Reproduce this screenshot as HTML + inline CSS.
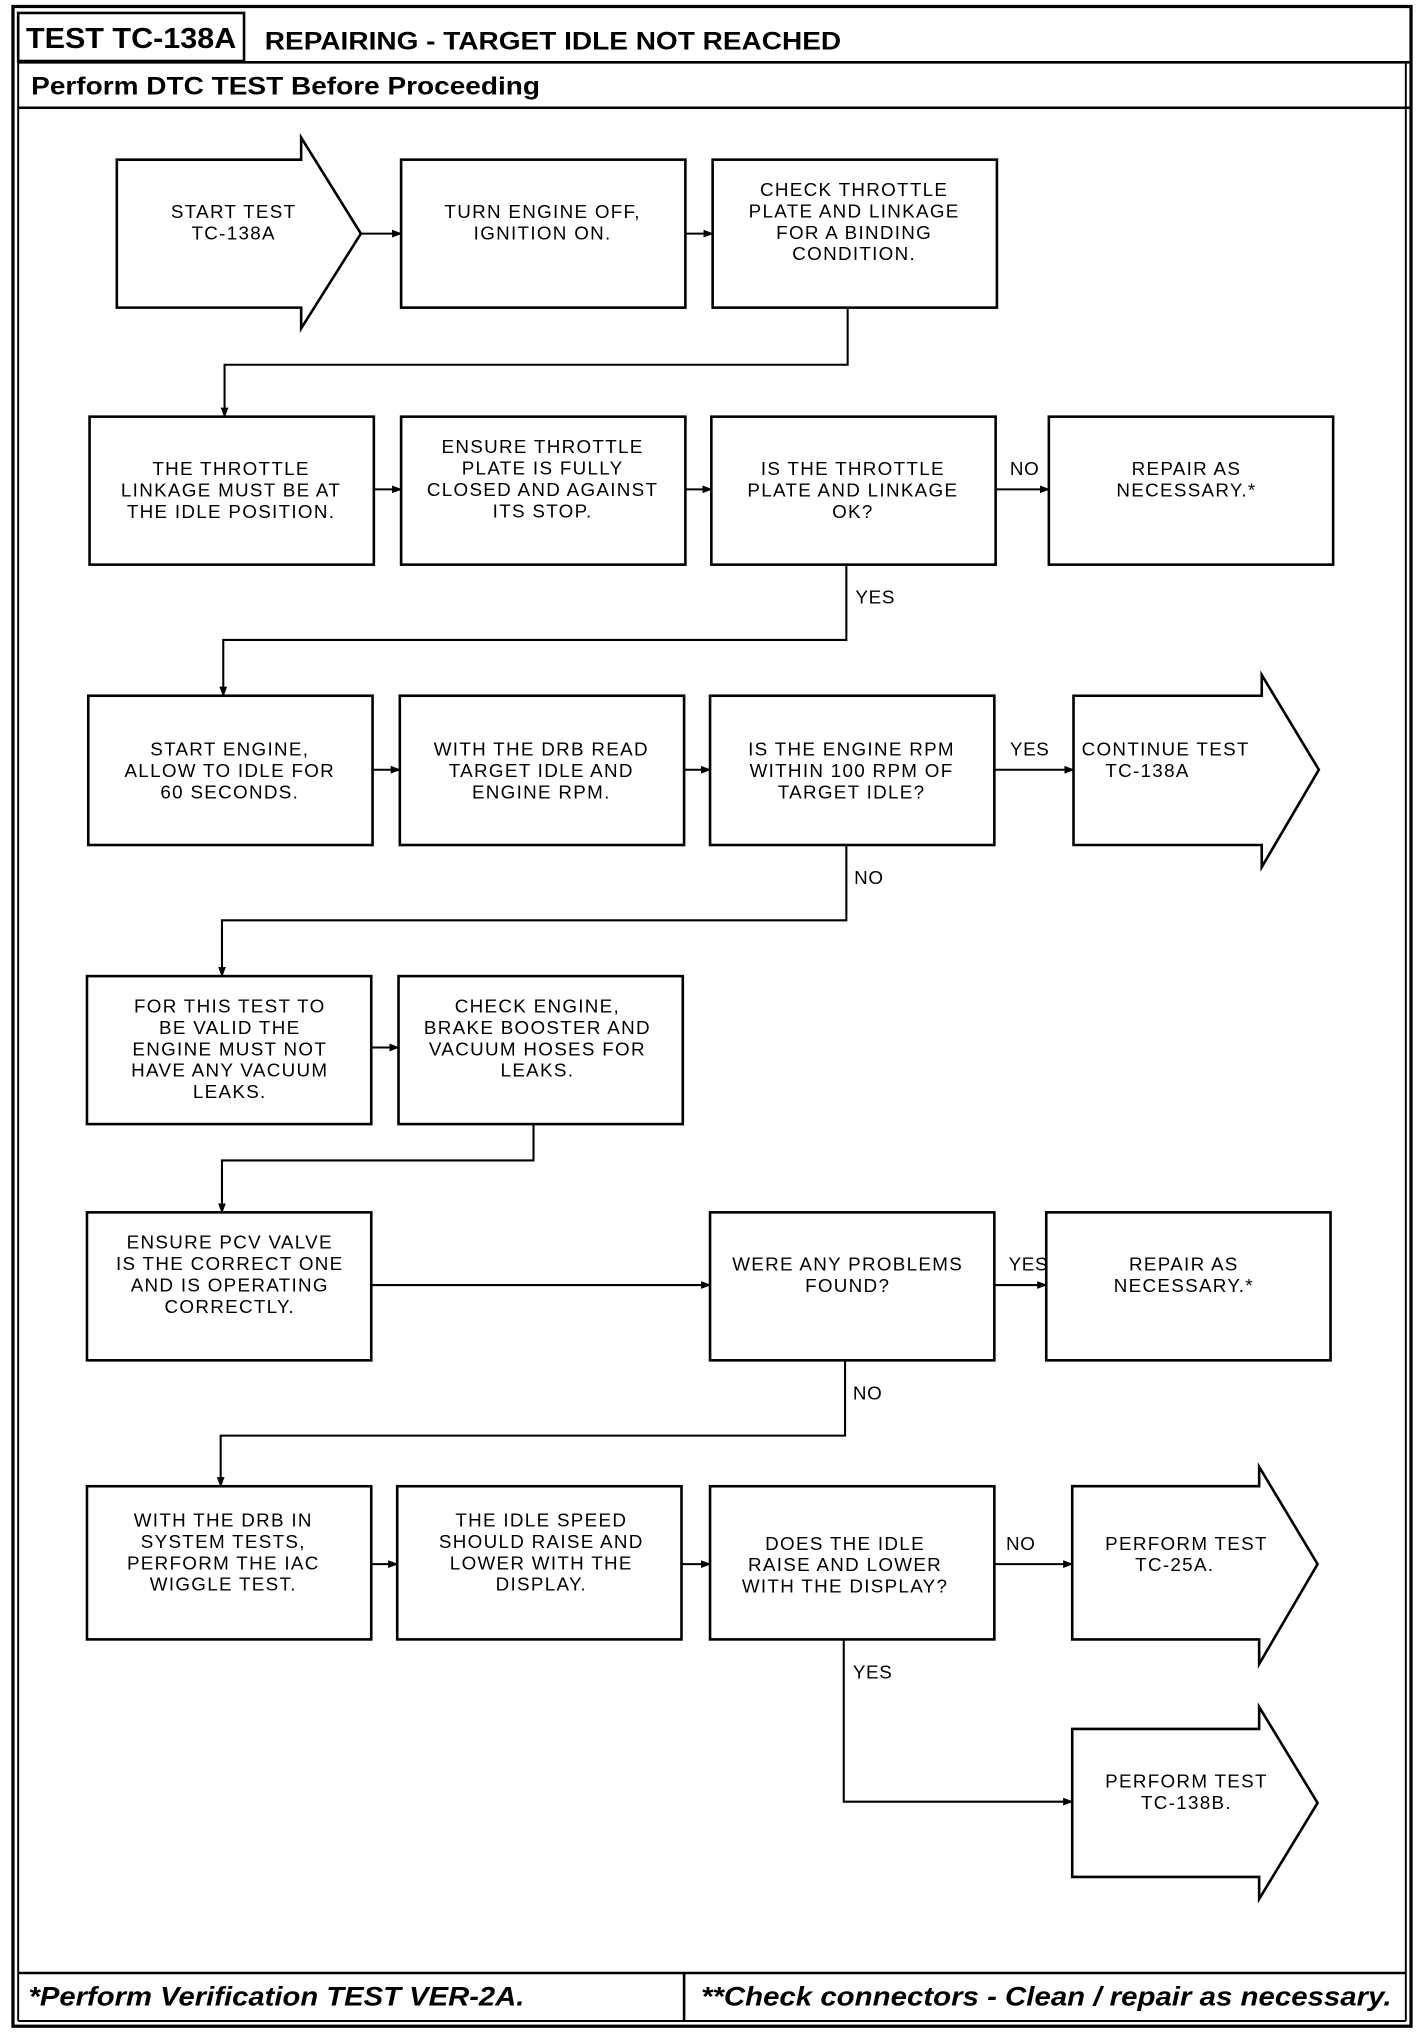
<!DOCTYPE html>
<html><head><meta charset="utf-8"><style>
html,body{margin:0;padding:0;background:#fff;}
svg{display:block;}
.b{fill:#fff;stroke:#000;stroke-width:2;}
.l{fill:none;stroke:#000;stroke-width:1.6;}
.t{font-family:"Liberation Sans",sans-serif;font-size:14.5px;letter-spacing:1px;fill:#000;text-anchor:middle;}
.lab{font-family:"Liberation Sans",sans-serif;font-size:14.5px;letter-spacing:0.5px;fill:#000;}
.h{font-family:"Liberation Sans",sans-serif;font-weight:bold;fill:#000;}
</style></head><body>
<svg width="1424" height="2034" viewBox="0 0 1097 1567" preserveAspectRatio="none" xmlns="http://www.w3.org/2000/svg">
<defs><marker id="a" markerWidth="8" markerHeight="8" refX="7" refY="4" orient="auto" markerUnits="userSpaceOnUse"><path d="M0,1 L8,4 L0,7 z" fill="#000"/></marker></defs>
<rect x="10" y="5" width="1077" height="1556" fill="none" stroke="#000" stroke-width="2.5"/>
<line x1="14" y1="10" x2="14" y2="1557" stroke="#000" stroke-width="1.5"/>
<line x1="1083" y1="48" x2="1083" y2="1557" stroke="#000" stroke-width="1.5"/>
<rect x="14" y="10" width="174" height="37" fill="none" stroke="#000" stroke-width="2"/>
<text class="h" x="20" y="37" font-size="22" textLength="162" lengthAdjust="spacingAndGlyphs">TEST TC-138A</text>
<text class="h" x="204" y="38" font-size="19" textLength="444" lengthAdjust="spacingAndGlyphs">REPAIRING - TARGET IDLE NOT REACHED</text>
<line x1="14" y1="48" x2="1087" y2="48" stroke="#000" stroke-width="2"/>
<text class="h" x="24" y="73" font-size="19" textLength="392" lengthAdjust="spacingAndGlyphs">Perform DTC TEST Before Proceeding</text>
<line x1="14" y1="83" x2="1087" y2="83" stroke="#000" stroke-width="2"/>
<line x1="14" y1="1520" x2="1083" y2="1520" stroke="#000" stroke-width="2"/>
<line x1="14" y1="1557" x2="1083" y2="1557" stroke="#000" stroke-width="1.5"/>
<line x1="527" y1="1520" x2="527" y2="1557" stroke="#000" stroke-width="2"/>
<text class="h" x="22" y="1545" font-size="21" font-style="italic" textLength="382" lengthAdjust="spacingAndGlyphs">*Perform Verification TEST VER-2A.</text>
<text class="h" x="540" y="1545" font-size="21" font-style="italic" textLength="532" lengthAdjust="spacingAndGlyphs">**Check connectors - Clean / repair as necessary.</text>

<!-- Row 1 -->
<path class="b" d="M90,123 H232 V106 L278,180 L232,253 V237 H90 Z"/>
<text class="t" x="180" y="168">START TEST<tspan x="180" dy="16.5">TC-138A</tspan></text>
<rect class="b" x="309" y="123" width="219" height="114"/>
<text class="t" x="418" y="168">TURN ENGINE OFF,<tspan x="418" dy="16.5">IGNITION ON.</tspan></text>
<rect class="b" x="549" y="123" width="219" height="114"/>
<text class="t" x="658" y="151">CHECK THROTTLE<tspan x="658" dy="16.5">PLATE AND LINKAGE</tspan><tspan x="658" dy="16.5">FOR A BINDING</tspan><tspan x="658" dy="16.5">CONDITION.</tspan></text>
<line class="l" x1="278" y1="180" x2="309" y2="180" marker-end="url(#a)"/>
<line class="l" x1="528" y1="180" x2="549" y2="180" marker-end="url(#a)"/>
<polyline class="l" points="653,237 653,281 173,281 173,321" marker-end="url(#a)"/>

<!-- Row 2 -->
<rect class="b" x="69" y="321" width="219" height="114"/>
<text class="t" x="178" y="366">THE THROTTLE<tspan x="178" dy="16.5">LINKAGE MUST BE AT</tspan><tspan x="178" dy="16.5">THE IDLE POSITION.</tspan></text>
<rect class="b" x="309" y="321" width="219" height="114"/>
<text class="t" x="418" y="349">ENSURE THROTTLE<tspan x="418" dy="16.5">PLATE IS FULLY</tspan><tspan x="418" dy="16.5">CLOSED AND AGAINST</tspan><tspan x="418" dy="16.5">ITS STOP.</tspan></text>
<rect class="b" x="548" y="321" width="219" height="114"/>
<text class="t" x="657" y="366">IS THE THROTTLE<tspan x="657" dy="16.5">PLATE AND LINKAGE</tspan><tspan x="657" dy="16.5">OK?</tspan></text>
<rect class="b" x="808" y="321" width="219" height="114"/>
<text class="t" x="914" y="366">REPAIR AS<tspan x="914" dy="16.5">NECESSARY.*</tspan></text>
<line class="l" x1="288" y1="377" x2="309" y2="377" marker-end="url(#a)"/>
<line class="l" x1="528" y1="377" x2="548" y2="377" marker-end="url(#a)"/>
<line class="l" x1="767" y1="377" x2="808" y2="377" marker-end="url(#a)"/>
<text class="lab" x="778" y="366">NO</text>
<text class="lab" x="659" y="465">YES</text>
<polyline class="l" points="652,435 652,493 172,493 172,536" marker-end="url(#a)"/>

<!-- Row 3 -->
<rect class="b" x="68" y="536" width="219" height="115"/>
<text class="t" x="177" y="582">START ENGINE,<tspan x="177" dy="16.5">ALLOW TO IDLE FOR</tspan><tspan x="177" dy="16.5">60 SECONDS.</tspan></text>
<rect class="b" x="308" y="536" width="219" height="115"/>
<text class="t" x="417" y="582">WITH THE DRB READ<tspan x="417" dy="16.5">TARGET IDLE AND</tspan><tspan x="417" dy="16.5">ENGINE RPM.</tspan></text>
<rect class="b" x="547" y="536" width="219" height="115"/>
<text class="t" x="656" y="582">IS THE ENGINE RPM<tspan x="656" dy="16.5">WITHIN 100 RPM OF</tspan><tspan x="656" dy="16.5">TARGET IDLE?</tspan></text>
<path class="b" d="M827,536 H972 V520 L1016,593 L972,668 V651 H827 Z"/>
<text class="t" x="898" y="582">CONTINUE TEST<tspan x="884" dy="16.5">TC-138A</tspan></text>
<line class="l" x1="287" y1="593" x2="308" y2="593" marker-end="url(#a)"/>
<line class="l" x1="527" y1="593" x2="547" y2="593" marker-end="url(#a)"/>
<line class="l" x1="766" y1="593" x2="827" y2="593" marker-end="url(#a)"/>
<text class="lab" x="778" y="582">YES</text>
<text class="lab" x="658" y="681">NO</text>
<polyline class="l" points="652,651 652,709 171,709 171,752" marker-end="url(#a)"/>

<!-- Row 4 -->
<rect class="b" x="67" y="752" width="219" height="114"/>
<text class="t" x="177" y="780">FOR THIS TEST TO<tspan x="177" dy="16.5">BE VALID THE</tspan><tspan x="177" dy="16.5">ENGINE MUST NOT</tspan><tspan x="177" dy="16.5">HAVE ANY VACUUM</tspan><tspan x="177" dy="16.5">LEAKS.</tspan></text>
<rect class="b" x="307" y="752" width="219" height="114"/>
<text class="t" x="414" y="780">CHECK ENGINE,<tspan x="414" dy="16.5">BRAKE BOOSTER AND</tspan><tspan x="414" dy="16.5">VACUUM HOSES FOR</tspan><tspan x="414" dy="16.5">LEAKS.</tspan></text>
<line class="l" x1="286" y1="807" x2="307" y2="807" marker-end="url(#a)"/>
<polyline class="l" points="411,866 411,894 171,894 171,934" marker-end="url(#a)"/>

<!-- Row 5 -->
<rect class="b" x="67" y="934" width="219" height="114"/>
<text class="t" x="177" y="962">ENSURE PCV VALVE<tspan x="177" dy="16.5">IS THE CORRECT ONE</tspan><tspan x="177" dy="16.5">AND IS OPERATING</tspan><tspan x="177" dy="16.5">CORRECTLY.</tspan></text>
<rect class="b" x="547" y="934" width="219" height="114"/>
<text class="t" x="653" y="979">WERE ANY PROBLEMS<tspan x="653" dy="16.5">FOUND?</tspan></text>
<rect class="b" x="806" y="934" width="219" height="114"/>
<text class="t" x="912" y="979">REPAIR AS<tspan x="912" dy="16.5">NECESSARY.*</tspan></text>
<line class="l" x1="286" y1="990" x2="547" y2="990" marker-end="url(#a)"/>
<line class="l" x1="766" y1="990" x2="806" y2="990" marker-end="url(#a)"/>
<text class="lab" x="777" y="979">YES</text>
<text class="lab" x="657" y="1078">NO</text>
<polyline class="l" points="651,1048 651,1106 170,1106 170,1145" marker-end="url(#a)"/>

<!-- Row 6 -->
<rect class="b" x="67" y="1145" width="219" height="118"/>
<text class="t" x="172" y="1176">WITH THE DRB IN<tspan x="172" dy="16.5">SYSTEM TESTS,</tspan><tspan x="172" dy="16.5">PERFORM THE IAC</tspan><tspan x="172" dy="16.5">WIGGLE TEST.</tspan></text>
<rect class="b" x="306" y="1145" width="219" height="118"/>
<text class="t" x="417" y="1176">THE IDLE SPEED<tspan x="417" dy="16.5">SHOULD RAISE AND</tspan><tspan x="417" dy="16.5">LOWER WITH THE</tspan><tspan x="417" dy="16.5">DISPLAY.</tspan></text>
<rect class="b" x="547" y="1145" width="219" height="118"/>
<text class="t" x="651" y="1194">DOES THE IDLE<tspan x="651" dy="16.5">RAISE AND LOWER</tspan><tspan x="651" dy="16.5">WITH THE DISPLAY?</tspan></text>
<path class="b" d="M826,1145 H970 V1130 L1015,1205 L970,1282 V1263 H826 Z"/>
<text class="t" x="914" y="1194">PERFORM TEST<tspan x="905" dy="16.5">TC-25A.</tspan></text>
<line class="l" x1="286" y1="1205" x2="306" y2="1205" marker-end="url(#a)"/>
<line class="l" x1="525" y1="1205" x2="547" y2="1205" marker-end="url(#a)"/>
<line class="l" x1="766" y1="1205" x2="826" y2="1205" marker-end="url(#a)"/>
<text class="lab" x="775" y="1194">NO</text>
<text class="lab" x="657" y="1293">YES</text>
<polyline class="l" points="650,1263 650,1388 826,1388" marker-end="url(#a)"/>

<!-- Row 7 -->
<path class="b" d="M826,1332 H970 V1315 L1015,1389 L970,1463 V1446 H826 Z"/>
<text class="t" x="914" y="1377">PERFORM TEST<tspan x="914" dy="16.5">TC-138B.</tspan></text>
</svg>
</body></html>
